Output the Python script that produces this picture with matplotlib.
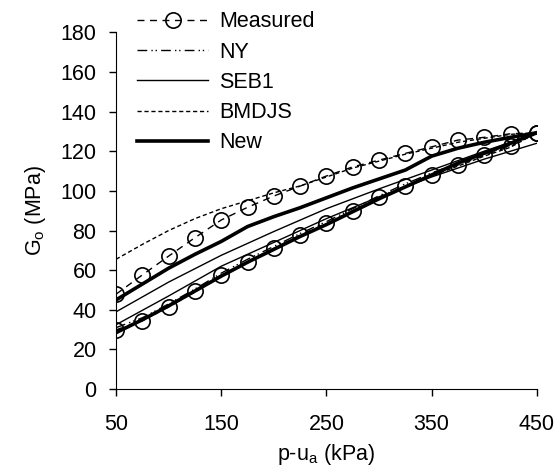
import numpy as np
import matplotlib
matplotlib.use("Agg")
import matplotlib.pyplot as plt

plt.rcParams['font.family'] = ['Liberation Sans', 'DejaVu Sans']
plt.rcParams['mathtext.fontset'] = 'custom'
plt.rcParams['mathtext.rm'] = 'Liberation Sans'
plt.rcParams['mathtext.it'] = 'Liberation Sans:italic'

# net stress p-ua (kPa)
p = [50, 75, 100, 125, 150, 175, 200, 225, 250, 275, 300, 325, 350, 375, 400, 425, 450]
p_model = [50, 100, 150, 200, 250, 300, 350, 400, 450]

# measured G0 (MPa), upper and lower branch
meas_up = [47.9, 57.6, 67.1, 76.4, 85.3, 91.7, 97.4, 102.4, 107.5, 112.1, 115.5, 118.9, 122.2, 125.6, 127.0, 128.8, 129.3]
meas_lo = [29.9, 34.6, 41.6, 49.5, 57.6, 64.3, 71.0, 77.7, 83.6, 90.0, 96.7, 102.4, 108.0, 113.0, 118.0, 122.5, 129.3]

# NY model
ny = [31.0, 36.0, 43.0, 50.5, 58.5, 65.5, 72.0, 78.5, 84.5, 91.0, 97.5, 103.5, 109.0, 114.0, 118.5, 123.0, 129.3]

# SEB1 model
seb1_up = [39.0, 54.0, 67.5, 79.5, 91.0, 101.0, 110.5, 120.0, 129.0]
seb1_lo = [32.5, 47.0, 62.0, 74.0, 86.0, 97.0, 107.0, 116.0, 124.0]

# BMDJS model
bmdjs_up = [65.5, 73.0, 80.0, 86.0, 91.0, 95.0, 99.0, 102.5, 107.0, 111.5, 115.0, 118.5, 121.5, 124.5, 126.5, 128.5, 129.3]
bmdjs_lo = [29.5, 34.5, 41.5, 49.0, 57.0, 64.0, 70.5, 77.0, 83.0, 89.5, 96.0, 102.0, 107.5, 112.5, 117.5, 122.0, 129.3]

# New model
new_up = [45.0, 53.0, 61.0, 68.0, 74.5, 82.0, 87.0, 91.5, 96.5, 101.5, 106.0, 110.5, 117.5, 121.5, 124.5, 127.0, 129.3]
new_lo = [28.5, 35.0, 42.0, 49.5, 57.0, 64.0, 70.5, 77.0, 83.0, 89.5, 96.0, 102.0, 108.0, 114.0, 119.0, 124.0, 129.3]

fig = plt.figure(figsize=(5.58, 4.74), dpi=100)
ax = fig.add_axes([0.208, 0.179, 0.754, 0.753])

ax.plot(p, meas_up, color='black', lw=1.0, ls=(0, (5, 4)), marker='o', ms=11,
        mfc='none', mec='black', mew=1.2, label='Measured')
ax.plot(p, meas_lo, color='black', lw=1.0, ls=(0, (5, 4)), marker='o', ms=11,
        mfc='none', mec='black', mew=1.2)
ax.plot(p, ny, color='black', lw=1.0, ls=(0, (7, 3, 1, 2, 1, 3)), label='NY')
ax.plot(p_model, seb1_up, color='black', lw=1.0, label='SEB1')
ax.plot(p_model, seb1_lo, color='black', lw=1.0)
ax.plot(p, bmdjs_up, color='black', lw=1.0, ls=(0, (3, 2)), label='BMDJS')
ax.plot(p, bmdjs_lo, color='black', lw=1.0, ls=(0, (3, 2)))
ax.plot(p, new_up, color='black', lw=2.6, label='New')
ax.plot(p, new_lo, color='black', lw=2.6)

ax.set_xlim(50, 450)
ax.set_ylim(0, 180)
ax.set_xticks([50, 150, 250, 350, 450])
ax.set_yticks(np.arange(0, 181, 20))
ax.spines['top'].set_visible(False)
ax.spines['right'].set_visible(False)
ax.tick_params(direction='out', length=5, width=1, labelsize=15.5)
ax.tick_params(axis='x', pad=13)
ax.tick_params(axis='y', pad=9)
ax.set_xlabel('p-u$_\\mathregular{a}$ (kPa)', fontsize=15.5, labelpad=5)
ax.set_ylabel('G$_\\mathregular{o}$ (MPa)', fontsize=15.5, labelpad=9)

ax.legend(loc='upper left', bbox_to_anchor=(0.238, 0.985), bbox_transform=fig.transFigure,
          frameon=False, fontsize=15.5, handlelength=3.3, handletextpad=0.5,
          labelspacing=0.43, borderaxespad=0.0, borderpad=0.2)

fig.savefig('out.png', dpi=100)
